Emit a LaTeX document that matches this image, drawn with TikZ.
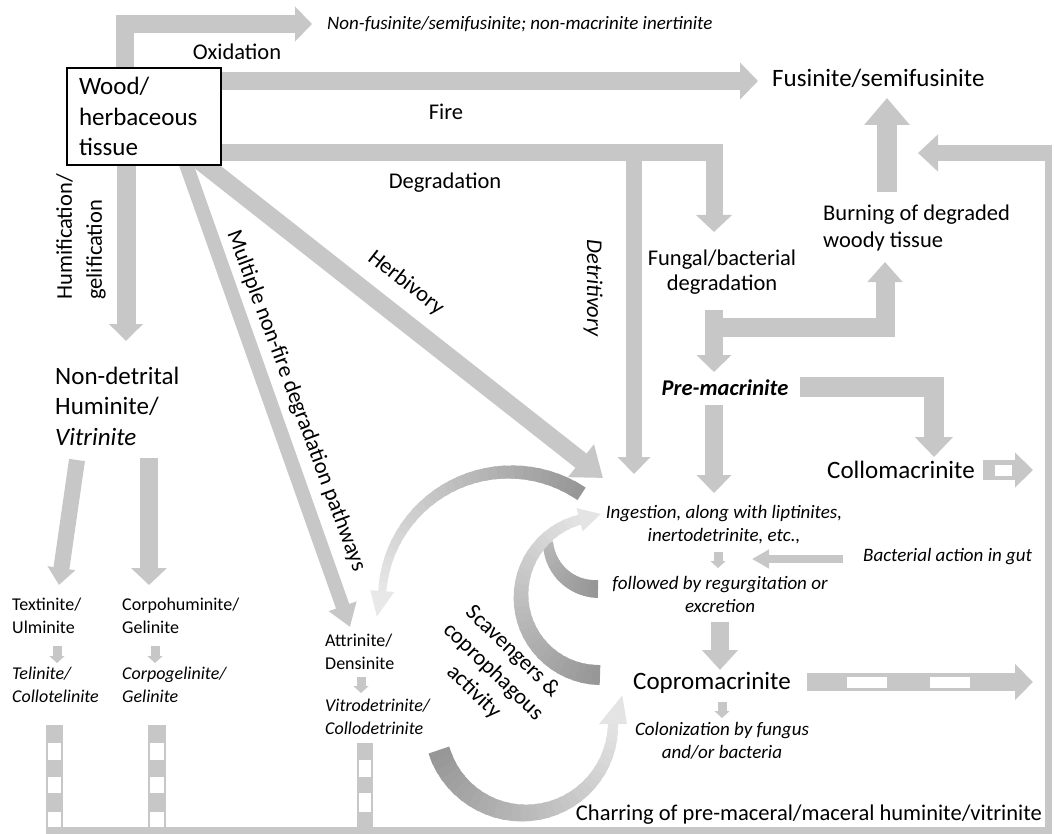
\documentclass[tikz,border=0pt]{standalone}
\usepackage{fontspec}
\setmainfont{Carlito}
\usetikzlibrary{arrows.meta,calc}
\definecolor{ag}{RGB}{199,199,199}
\tikzset{
  fat/.style={draw=ag, line join=miter, line cap=butt},
  hd/.style 2 args={-{Triangle[length=#1,width=#2]}},
  smarr/.style={draw=ag, line width=9pt, -{Triangle[length=7pt,width=15pt]}},
  lbl/.style={inner sep=0pt, font=\fontsize{22.5}{27}\selectfont},
  lbli/.style={inner sep=0pt, font=\fontsize{22.5}{27}\selectfont\itshape},
  big/.style={inner sep=0pt, font=\fontsize{25}{30.5}\selectfont},
  sm/.style={inner sep=0pt, align=left, font=\fontsize{18}{23}\selectfont},
  smi/.style={inner sep=0pt, font=\fontsize{19}{23}\selectfont\itshape},
}
\newcommand\garc[8]{%
  \foreach \k in {0,...,29}{%
    \pgfmathsetmacro\aA{#3+(#4-#3)*\k/30}%
    \pgfmathsetmacro\aB{#3+(#4-#3)*(\k+1.4)/30}%
    \pgfmathsetmacro\wW{#5+(#6-#5)*(\k+0.5)/30}%
    \pgfmathtruncatemacro\gG{#7+(#8-#7)*(\k+0.5)/30}%
    \draw[line width=\wW pt, draw={rgb,255:red,\gG;green,\gG;blue,\gG}]
      ($(#1)+(\aA:#2)$) arc[start angle=\aA, end angle=\aB, radius=#2];
  }%
}
\begin{document}
\begin{tikzpicture}[x=1pt,y=1pt]
\useasboundingbox (0,0) rectangle (1054,-834);

% ---------- named coordinates ----------
\coordinate (oxS) at (125,-100); \coordinate (oxK) at (125,-24); \coordinate (oxT) at (312,-24);
\coordinate (fiS) at (200,-81); \coordinate (fiT) at (758,-81);
\coordinate (deS) at (200,-153); \coordinate (deK) at (714,-153); \coordinate (deT) at (714,-232);
\coordinate (dtS) at (634,-153); \coordinate (dtT) at (634,-474);
\coordinate (huS) at (126,-150); \coordinate (huT) at (126,-341);
\coordinate (muS) at (181,-150); \coordinate (muT) at (350,-627);
\coordinate (heS) at (186,-150); \coordinate (heT) at (603,-478);
\coordinate (nd1S) at (77,-460); \coordinate (nd1T) at (59,-585);
\coordinate (nd2S) at (149,-458); \coordinate (nd2T) at (149,-585);
\coordinate (fpS) at (714,-310); \coordinate (fpT) at (714,-372);
\coordinate (fbS) at (714,-327.5); \coordinate (fbK) at (885,-327.5); \coordinate (fbT) at (885,-262);
\coordinate (bfS) at (887,-192); \coordinate (bfT) at (887,-98);
\coordinate (pcS) at (800,-387); \coordinate (pcK) at (934,-387); \coordinate (pcT) at (934,-457);
\coordinate (pdS) at (714,-405); \coordinate (pdT) at (714,-493);
\coordinate (ecS) at (720,-622); \coordinate (ecT) at (720,-670);
\coordinate (coS) at (983,-470); \coordinate (coT) at (1033,-470);
\coordinate (cpS) at (807,-682); \coordinate (cpT) at (1033,-682);
\coordinate (baS) at (843,-559); \coordinate (baT) at (752,-559);
\coordinate (frS) at (1052,-153); \coordinate (frT) at (918,-153);
\coordinate (fr1) at (1048,-146); \coordinate (fr2) at (1048,-830); \coordinate (fr3) at (46,-830);
\coordinate (ca) at (510,-600); \coordinate (cb) at (600,-596);
\coordinate (cc) at (597,-540); \coordinate (cd) at (524,-724);

% ---------- fat arrows ----------
\draw[fat, line width=18pt, hd={17pt}{34pt}] (oxS) -- (oxK) -- (oxT);
\draw[fat, line width=18pt, hd={18pt}{36pt}] (fiS) -- (fiT);
\draw[fat, line width=17pt, hd={17pt}{35pt}] (deS) -- (deK) -- (deT);
\draw[fat, line width=16pt, hd={17pt}{32pt}] (dtS) -- (dtT);
\draw[fat, line width=19pt, hd={17pt}{33pt}] (huS) -- (huT);
\draw[fat, line width=14pt, hd={22pt}{28pt}] (muS) -- (muT);
\draw[fat, line width=18pt, hd={28pt}{40pt}] (heS) -- (heT);
\draw[fat, line width=16pt, hd={17pt}{27pt}] (nd1S) -- (nd1T);
\draw[fat, line width=18pt, hd={17pt}{35pt}] (nd2S) -- (nd2T);
\draw[fat, line width=18pt, hd={17pt}{34pt}] (fpS) -- (fpT);
\draw[fat, line width=19pt, hd={20pt}{34pt}] (fbS) -- (fbK) -- (fbT);
\draw[fat, line width=20pt, hd={27pt}{44pt}] (bfS) -- (bfT);
\draw[fat, line width=20pt, hd={20pt}{37pt}] (pcS) -- (pcK) -- (pcT);
\draw[fat, line width=18pt, hd={18pt}{34pt}] (pdS) -- (pdT);
\draw[fat, line width=18pt, hd={20pt}{35pt}] (ecS) -- (ecT);
\draw[fat, line width=20pt, hd={18pt}{34pt}] (coS) -- (coT);
\fill[white] (995,-465) rectangle (1012,-476);
\draw[fat, line width=18pt, hd={18pt}{35pt}] (cpS) -- (cpT);
\fill[white] (847,-677) rectangle (887,-688);
\fill[white] (930,-677) rectangle (970,-688);
\draw[fat, line width=8pt, hd={17pt}{18pt}] (baS) -- (baT);
% small arrows
\draw[smarr] (57,-646) -- (57,-663);
\draw[smarr] (155,-646) -- (155,-663);
\draw[smarr] (361,-677) -- (361,-693);
\draw[smarr] (718,-552) -- (718,-568);
\draw[smarr] (722,-702) -- (722,-718);
% frame
\draw[fat, line width=16pt, hd={20pt}{36pt}] (frS) -- (frT);
\draw[fat, line width=7pt] (fr1) -- (fr2) -- (fr3);
% dashed bars
\fill[ag] (46,-725) rectangle (63,-830);
\fill[white] (48,-743) rectangle (61,-760);
\fill[white] (48,-777) rectangle (61,-793);
\fill[white] (48,-812) rectangle (61,-827);
\fill[ag] (148,-725) rectangle (166,-830);
\fill[white] (150,-743) rectangle (164,-760);
\fill[white] (150,-777) rectangle (164,-793);
\fill[white] (150,-812) rectangle (164,-827);
\fill[ag] (357,-743) rectangle (373,-830);
\fill[white] (359,-760) rectangle (371,-777);
\fill[white] (359,-793) rectangle (371,-812);

% ---------- curved (scavenger) arrows ----------
\garc{cc}{49}{182}{270}{10}{18}{185}{150}
\garc{cb}{79}{270}{105}{20}{10}{150}{228}
\fill[fill={rgb,255:red,228;green,228;blue,228}] ($(cb)+(105:67)$) -- ($(cb)+(105:91)$) -- ($(cb)+(105:79)+(15:22)$) -- cycle;
\garc{ca}{128}{56}{176}{15}{8}{150}{232}
\fill[fill={rgb,255:red,232;green,232;blue,232}] ($(ca)+(176:116)$) -- ($(ca)+(176:140)$) -- ($(ca)+(176:128)+(258:26)$) -- cycle;
\garc{cd}{89}{197}{360}{22}{10}{150}{228}
\fill[fill={rgb,255:red,228;green,228;blue,228}] ($(cd)+(0:75)$) -- ($(cd)+(0:103)$) -- ($(cd)+(0:89)+(72:30)$) -- cycle;

% ---------- nodes ----------
\node[draw=black, line width=1.5pt, fill=white, minimum width=154pt, minimum height=97pt,
      text width=130pt, inner xsep=12pt, inner ysep=0pt, align=left,
      font=\fontsize{25}{30.5}\selectfont] (wood) at (144,-116.5) {Wood/\\herbaceous\\tissue};
\node[smi, anchor=west] (nonfus) at (327,-24) {Non-fusinite/semifusinite; non-macrinite inertinite};
\node[lbl] (oxid) at (237,-52) {Oxidation};
\node[big, anchor=west] (fus) at (772,-78) {Fusinite/semifusinite};
\node[lbl] (fire) at (446,-112) {Fire};
\node[lbl] (degr) at (445,-183) {Degradation};
\node[inner sep=0pt, rotate=90, anchor=west, align=left, font=\fontsize{22.5}{30}\selectfont] (humif) at (81,-300) {Humification/\\gelification};
\node[big, anchor=west, align=left] (nondet) at (55,-406) {Non-detrital\\Huminite/\\\textit{Vitrinite}};
\node[sm, anchor=west] (textin) at (12,-616) {Textinite/\\Ulminite};
\node[sm, anchor=west, font=\fontsize{18}{23}\selectfont\itshape] (telin) at (12,-685) {Telinite/\\Collotelinite};
\node[sm, anchor=west] (corpo) at (122,-616) {Corpohuminite/\\Gelinite};
\node[sm, anchor=west, font=\fontsize{18}{23}\selectfont\itshape] (corpog) at (122,-685) {Corpogelinite/\\Gelinite};
\node[sm, anchor=west] (attr) at (325,-652) {Attrinite/\\Densinite};
\node[sm, anchor=west, font=\fontsize{18}{23}\selectfont\itshape] (vitro) at (325,-717) {Vitrodetrinite/\\Collodetrinite};
\node[lbl, rotate=-69.5] (mult) at (296,-401) {Multiple non-fire degradation pathways};
\node[lbl, rotate=-38] (herb) at (406,-283) {Herbivory};
\node[lbli, rotate=-90] (detr) at (593,-288) {Detritivory};
\node[inner sep=0pt, align=center, font=\fontsize{22.5}{25}\selectfont] (fung) at (722,-272) {Fungal/bacterial\\degradation};
\node[lbl, anchor=west, align=left] (burn) at (823,-228) {Burning of degraded\\woody tissue};
\node[inner sep=0pt, font=\fontsize{22.5}{27}\selectfont\bfseries\itshape] (premac) at (725,-388) {Pre-macrinite};
\node[big, anchor=west] (collo) at (827,-470) {Collomacrinite};
\node[smi, align=center] (ingest) at (724,-525) {Ingestion, along with liptinites,\\inertodetrinite, etc.,};
\node[smi, anchor=west] (bact) at (863,-557) {Bacterial action in gut};
\node[smi, align=center] (foll) at (720,-594) {followed by regurgitation or\\excretion};
\node[big, anchor=west] (copro) at (633,-683) {Copromacrinite};
\node[smi, align=center] (colon) at (722,-741) {Colonization by fungus\\and/or bacteria};
\node[lbl, anchor=east] (char) at (1042,-815) {Charring of pre-maceral/maceral huminite/vitrinite};
\node[inner sep=0pt, align=center, rotate=-44, font=\fontsize{22.5}{28}\selectfont] (scav) at (493,-672) {Scavengers \&\\coprophagous\\activity};
\end{tikzpicture}
\end{document}
